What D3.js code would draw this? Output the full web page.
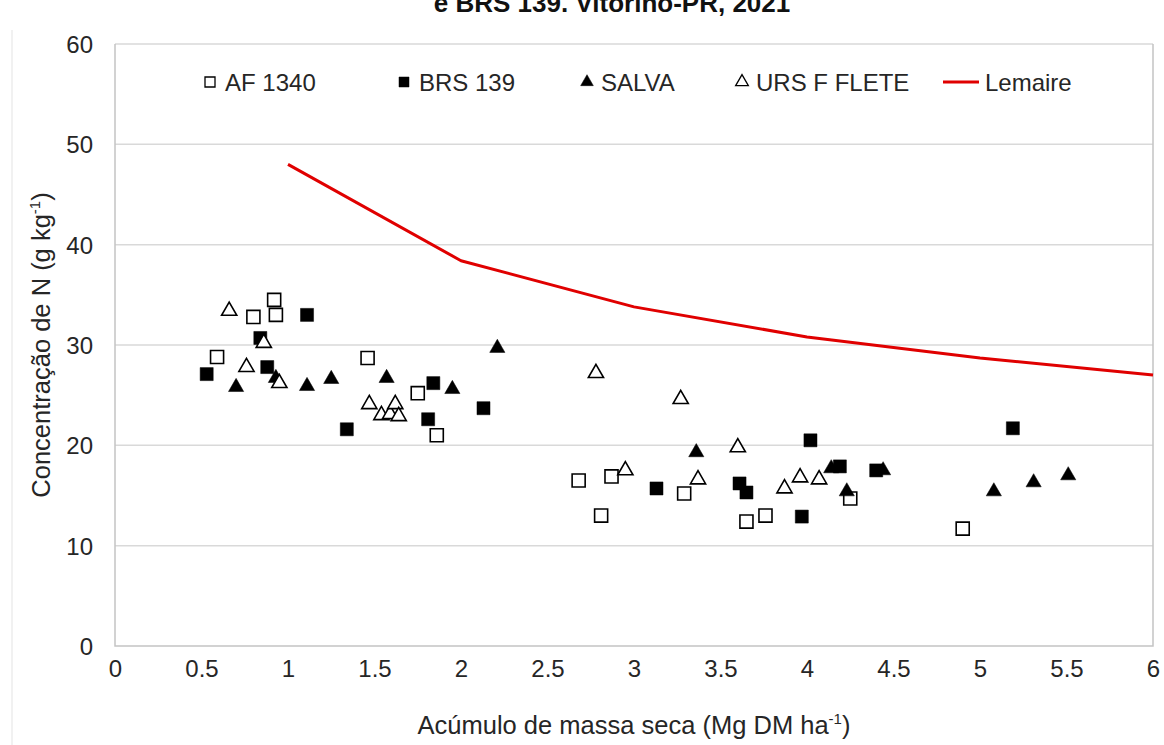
<!DOCTYPE html>
<html lang="pt">
<head>
<meta charset="UTF-8" />
<title>Concentração de N x acúmulo de massa seca</title>
<script src="https://d3js.org/d3.v7.min.js"></script>
<style>
  html, body { margin: 0; padding: 0; background: #fff; }
  svg { display: block; font-family: "Liberation Sans", Arial, sans-serif; }
  .tick text { fill: #262626; font-size: 24px; }
  .legend text { fill: #262626; font-size: 24px; }
  .axis-title { fill: #262626; font-size: 25.5px; }
</style>
</head>
<body>
<svg id="chart" width="1164" height="745"></svg>
<script>
// cultivares: x = acúmulo de massa seca (Mg DM/ha), y = concentração de N (g/kg)
const afX = [0.59, 0.80, 0.92, 0.93, 1.46, 1.75, 1.86, 2.68, 2.81, 2.87, 3.29, 3.65, 3.76, 4.25, 4.90];
const afY = [28.8, 32.8, 34.5, 33.0, 28.7, 25.2, 21.0, 16.5, 13.0, 16.9, 15.2, 12.4, 13.0, 14.7, 11.7];

const brsX = [0.53, 0.84, 0.88, 1.11, 1.34, 1.81, 1.84, 2.13, 3.13, 3.61, 3.65, 3.97, 4.02, 4.19, 4.40, 5.19];
const brsY = [27.1, 30.7, 27.8, 33.0, 21.6, 22.6, 26.2, 23.7, 15.7, 16.2, 15.3, 12.9, 20.5, 17.9, 17.5, 21.7];

const salvaX = [0.70, 0.93, 1.11, 1.25, 1.57, 1.95, 2.21, 3.36, 4.14, 4.23, 4.44, 5.08, 5.31, 5.51];
const salvaY = [25.8, 26.7, 25.9, 26.6, 26.7, 25.6, 29.7, 19.3, 17.7, 15.4, 17.5, 15.4, 16.3, 17.0];

const ursX = [0.66, 0.76, 0.86, 0.95, 1.47, 1.54, 1.59, 1.62, 1.64, 2.78, 2.95, 3.27, 3.37, 3.60, 3.87, 3.96, 4.07];
const ursY = [33.4, 27.8, 30.2, 26.2, 24.1, 23.0, 23.1, 24.1, 22.9, 27.2, 17.5, 24.6, 16.6, 19.8, 15.7, 16.8, 16.6];

// curva crítica de Lemaire
const lemaireX = [1, 2, 3, 4, 5, 6];
const lemaireY = [48.0, 38.4, 33.8, 30.8, 28.7, 27.0];

const xTicks = [0, 0.5, 1, 1.5, 2, 2.5, 3, 3.5, 4, 4.5, 5, 5.5, 6];
const yTicks = [0, 10, 20, 30, 40, 50, 60];

const series = [
  { name: "AF 1340", xs: afX, ys: afY, shape: "square", filled: false },
  { name: "BRS 139", xs: brsX, ys: brsY, shape: "square", filled: true },
  { name: "SALVA", xs: salvaX, ys: salvaY, shape: "triangle", filled: true },
  { name: "URS F FLETE", xs: ursX, ys: ursY, shape: "triangle", filled: false }
];

const plot = { left: 115, right: 1153, top: 44, bottom: 646 };

const svg = d3.select("#chart");

const x = d3.scaleLinear().domain([0, 6]).range([plot.left, plot.right]);
const y = d3.scaleLinear().domain([0, 60]).range([plot.bottom, plot.top]);

// faint outer chart border
svg.append("line")
  .attr("x1", 12).attr("x2", 12).attr("y1", 30).attr("y2", 745)
  .attr("stroke", "#ececec").attr("stroke-width", 1.5);

// title (cut off at the top in the source)
svg.append("text")
  .attr("x", 612).attr("y", 12)
  .attr("text-anchor", "middle")
  .attr("font-size", 26).attr("font-weight", "bold")
  .attr("fill", "#111")
  .text("e BRS 139. Vitorino-PR, 2021");

// gridlines
svg.append("g")
  .selectAll("line")
  .data(yTicks.filter(d => d > 0))
  .enter()
  .append("line")
  .attr("x1", plot.left).attr("x2", plot.right)
  .attr("y1", d => y(d)).attr("y2", d => y(d))
  .attr("stroke", "#d9d9d9").attr("stroke-width", 1.5);

// plot frame: left, bottom, right
svg.append("path")
  .attr("d", `M${plot.left},${plot.top}V${plot.bottom}H${plot.right}V${plot.top}`)
  .attr("fill", "none")
  .attr("stroke", "#c4c4c4")
  .attr("stroke-width", 1.5);

// axes (labels only)
const xAxis = svg.append("g")
  .attr("transform", `translate(0,${plot.bottom})`)
  .call(d3.axisBottom(x).tickValues(xTicks).tickSize(0).tickPadding(14).tickFormat(d => String(d)));
const yAxis = svg.append("g")
  .attr("transform", `translate(${plot.left},0)`)
  .call(d3.axisLeft(y).tickValues(yTicks).tickSize(0).tickPadding(22).tickFormat(d => String(d)));
[xAxis, yAxis].forEach(a => {
  a.select(".domain").remove();
  a.selectAll(".tick text").attr("font-size", null).attr("font-family", null);
});
yAxis.selectAll(".tick text").attr("dy", "0.36em");

// axis titles
const xt = svg.append("text")
  .attr("class", "axis-title")
  .attr("x", 634).attr("y", 734)
  .attr("text-anchor", "middle");
xt.append("tspan").text("Acúmulo de massa seca (Mg DM ha");
xt.append("tspan").attr("font-size", 15).attr("dy", -10).text("-1");
xt.append("tspan").attr("dy", 10).text(")");

const yt = svg.append("text")
  .attr("class", "axis-title")
  .attr("transform", `translate(50,${(plot.top + plot.bottom) / 2}) rotate(-90)`)
  .attr("text-anchor", "middle");
yt.append("tspan").text("Concentração de N (g kg");
yt.append("tspan").attr("font-size", 15).attr("dy", -10).text("-1");
yt.append("tspan").attr("dy", 10).text(")");

// markers
const sym = {
  square: d3.symbol().type(d3.symbolSquare).size(170),
  triangle: d3.symbol().type(d3.symbolTriangle).size(100)
};

series.forEach(s => {
  const pts = s.xs.map((v, i) => [v, s.ys[i]]);
  svg.append("g")
    .selectAll("path")
    .data(pts)
    .enter()
    .append("path")
    .attr("transform", d => `translate(${x(d[0])},${y(d[1])})`)
    .attr("d", sym[s.shape]())
    .attr("fill", s.filled ? "#000" : "#fff")
    .attr("stroke", "#000")
    .attr("stroke-width", s.filled ? 0.5 : 1.6);
});

// Lemaire line
svg.append("path")
  .datum(lemaireX.map((v, i) => [v, lemaireY[i]]))
  .attr("fill", "none")
  .attr("stroke", "#e00000")
  .attr("stroke-width", 3)
  .attr("stroke-linejoin", "round")
  .attr("d", d3.line().x(d => x(d[0])).y(d => y(d[1])));

// legend
const legendItems = [
  { name: "AF 1340", shape: "square", filled: false, mx: 210, tx: 225 },
  { name: "BRS 139", shape: "square", filled: true, mx: 404, tx: 419 },
  { name: "SALVA", shape: "triangle", filled: true, mx: 587, tx: 601 },
  { name: "URS F FLETE", shape: "triangle", filled: false, mx: 742, tx: 756 },
  { name: "Lemaire", shape: "line", mx: 961, tx: 985 }
];
const legendY = 82;
const lg = svg.append("g").attr("class", "legend");
const legSym = {
  square: d3.symbol().type(d3.symbolSquare).size(100),
  triangle: d3.symbol().type(d3.symbolTriangle).size(70)
};
legendItems.forEach(it => {
  if (it.shape === "line") {
    lg.append("line")
      .attr("x1", it.mx - 18).attr("x2", it.mx + 18)
      .attr("y1", legendY).attr("y2", legendY)
      .attr("stroke", "#e00000").attr("stroke-width", 3);
  } else {
    lg.append("path")
      .attr("transform", `translate(${it.mx},${legendY})`)
      .attr("d", legSym[it.shape]())
      .attr("fill", it.filled ? "#000" : "#fff")
      .attr("stroke", "#000")
      .attr("stroke-width", it.filled ? 0.5 : 1.3);
  }
  lg.append("text")
    .attr("x", it.tx).attr("y", legendY)
    .attr("dy", "0.36em")
    .text(it.name);
});
</script>
</body>
</html>
